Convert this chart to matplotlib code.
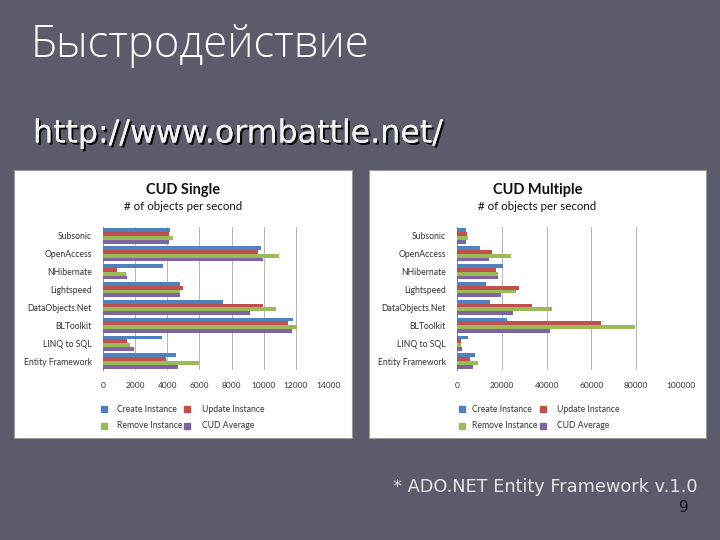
import numpy as np
import matplotlib
matplotlib.use("Agg")
import matplotlib.pyplot as plt
import matplotlib.patheffects as pe
from matplotlib.patches import Rectangle
from matplotlib.lines import Line2D

# --- data ------------------------------------------------------------------
orms = ["Entity Framework", "LINQ to SQL", "BLToolkit", "DataObjects.Net",
        "Lightspeed", "NHibernate", "OpenAccess", "Subsonic"]
series = ["Create Instance", "Update Instance", "Remove Instance", "CUD Average"]

single_create = [4550, 3640, 11840, 7450, 4820, 3730, 9850, 4150]
single_update = [3910, 1490, 11510, 9940, 4970, 870, 9630, 4100]
single_remove = [5960, 1680, 12050, 10790, 4760, 1430, 10950, 4330]
single_avg = [4660, 1930, 11740, 9130, 4820, 1470, 9940, 4100]

multi_create = [8100, 4800, 22500, 14900, 12800, 20700, 10100, 3900]
multi_update = [6000, 1600, 64200, 33300, 27600, 17200, 15500, 4300]
multi_remove = [9400, 1900, 79600, 42400, 26300, 18500, 24000, 4800]
multi_avg = [7000, 2100, 41600, 24900, 19600, 18500, 14500, 4200]

single_ticks = [0, 2000, 4000, 6000, 8000, 10000, 12000, 14000]
multi_ticks = [0, 20000, 40000, 60000, 80000, 100000]

COLORS = ["#4F81BD", "#C0504D", "#9BBB59", "#8064A2"]
BG = "#5a5c6b"
W, H = 720, 540

fig = plt.figure(figsize=(7.2, 5.4), dpi=100, facecolor=BG)


def px(x0, y0, x1, y1):
    """pixel box (top-left origin) -> figure fraction rect"""
    return [x0 / W, (H - y1) / H, (x1 - x0) / W, (y1 - y0) / H]


def panel(box, plot_box, title, values, ticks, leg_x):
    x0, y0, x1, y1 = box
    # white chart background behind the axes
    fig.patches.append(Rectangle((x0 / W, (H - y1) / H), (x1 - x0) / W, (y1 - y0) / H,
                                 transform=fig.transFigure, facecolor="white",
                                 edgecolor="#9a9a9a", linewidth=0.8, zorder=-5))
    ax = fig.add_axes(px(*plot_box))
    ax.set_facecolor("white")
    y = np.arange(len(orms))
    h = 0.215
    for k, vals in enumerate(values):
        ax.barh(y + (1.5 - k) * h, vals, height=h, color=COLORS[k], zorder=3)
    ax.set_ylim(-0.5, len(orms) - 0.5)
    ax.set_xlim(ticks[0], ticks[-1])
    ax.set_xticks(ticks)
    ax.set_xticklabels([str(t) for t in ticks], fontsize=6, color="#333333", family="Lato")
    ax.set_yticks(y)
    ax.set_yticklabels(orms, fontsize=6.2, color="#333333", family="Lato")
    ax.tick_params(axis="both", length=0, pad=9)
    ax.tick_params(axis="y", pad=8)
    ax.grid(axis="x", color="#b5b5b5", linewidth=0.7, zorder=0)
    for s in ["top", "right", "bottom"]:
        ax.spines[s].set_visible(False)
    ax.spines["left"].set_color("#909090")
    ax.spines["left"].set_linewidth(0.8)

    cx = (x0 + x1) / 2 / W
    fig.text(cx, (H - 190) / H, title, ha="center", va="center", fontsize=10.5,
             fontweight="bold", family="Lato", color="#111111")
    fig.text(cx, (H - 207) / H, "# of objects per second", ha="center", va="center",
             fontsize=8.3, family="Lato", color="#111111")

    # legend, two columns
    rows = [409, 426]
    for k, name in enumerate(series):
        mx, tx = leg_x[k % 2]
        yy = (H - rows[k // 2]) / H
        fig.lines.append(Line2D([mx / W], [yy], marker="s", markersize=3.8,
                                color=COLORS[k], transform=fig.transFigure))
        fig.text(tx / W, yy, name, ha="left", va="center", fontsize=6.2,
                 family="Lato", color="#333333")
    return ax


panel((14, 170, 352, 438), (103, 227, 328, 370), "CUD Single",
      [single_create, single_update, single_remove, single_avg], single_ticks,
      [(104, 117), (187, 202)])
panel((369, 170, 706, 438), (457, 227, 681, 370), "CUD Multiple",
      [multi_create, multi_update, multi_remove, multi_avg], multi_ticks,
      [(462, 472), (543, 557)])

fig.text(31 / W, (H - 46) / H, "Быстродействие", ha="left", va="center",
         fontsize=31.5, family="Open Sans", fontweight="light", color="white")
fig.text(33 / W, (H - 134) / H, "http://www.ormbattle.net/", ha="left", va="center",
         fontsize=22.8, family="DejaVu Sans", color="#f2f2f2",
         path_effects=[pe.withSimplePatchShadow(offset=(1.5, -1.5), shadow_rgbFace="black",
                                                alpha=0.9), pe.Normal()])
fig.text(698 / W, (H - 487) / H, "* ADO.NET Entity Framework v.1.0", ha="right",
         va="center", fontsize=12.8, family="DejaVu Sans", color="#e6e6e6")
fig.text(689 / W, (H - 508) / H, "9", ha="right", va="center", fontsize=11,
         family="DejaVu Sans", color="#111111")

fig.savefig("out.png", dpi=100, facecolor=BG)
